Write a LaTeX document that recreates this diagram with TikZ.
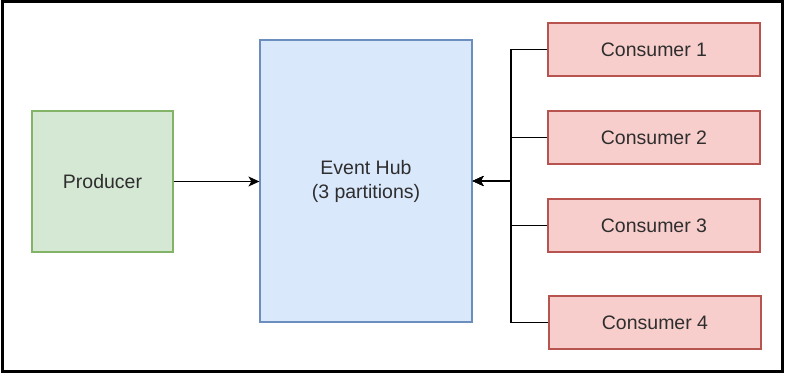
\documentclass[tikz,border=0pt]{standalone}
\usepackage{fontspec}
\setmainfont{Liberation Sans}
\usetikzlibrary{arrows.meta,positioning}

\tikzset{
  box/.style={draw, inner sep=0, line width=1.2pt, align=center,
              font=\fontsize{19.5}{24}\selectfont, text=black!82},
  prodbox/.style={box, fill=prodfill, draw=prodline,
                  minimum width=141pt, minimum height=141pt},
  hubbox/.style={box, fill=hubfill, draw=hubline,
                 minimum width=212pt, minimum height=282pt},
  consbox/.style={box, fill=consfill, draw=consline,
                  minimum width=212pt, minimum height=53pt},
  link/.style={line width=1.3pt, black},
  link arrow/.style={link, -{Stealth[length=11pt,width=10pt,inset=3pt]}},
}
\definecolor{prodfill}{HTML}{D5E8D4}
\definecolor{prodline}{HTML}{82B366}
\definecolor{hubfill}{HTML}{DAE8FC}
\definecolor{hubline}{HTML}{6C8EBF}
\definecolor{consfill}{HTML}{F8CECC}
\definecolor{consline}{HTML}{B85450}

\begin{document}
\begin{tikzpicture}[x=1pt, y=-1pt]
    % frame, 785 x 374
    \useasboundingbox (0,0) rectangle (785,374);
    \draw[line width=3pt] (2.5,1.5) rectangle (782.5,371.5);

    % producer and hub
    \node[prodbox] (prod) at (102.5,181.5) {Producer};
    \node[hubbox]  (hub)  at (366,181)     {Event Hub\\(3 partitions)};

    % consumers
    \node[consbox] (c1) at (654,49.5)  {Consumer 1};
    \node[consbox] (c2) at (654,137.5) {Consumer 2};
    \node[consbox] (c3) at (654,225.5) {Consumer 3};
    \node[consbox] (c4) at (655,322.5) {Consumer 4};

    % connectors
    \draw[link arrow] (prod.east) -- (hub.west |- prod.east);
    \coordinate (bus) at (511,181);
    \foreach \i in {1,...,4} {
      \draw[link arrow] (c\i.west) -| (bus) -- (hub.east |- bus);
    }
\end{tikzpicture}
\end{document}
